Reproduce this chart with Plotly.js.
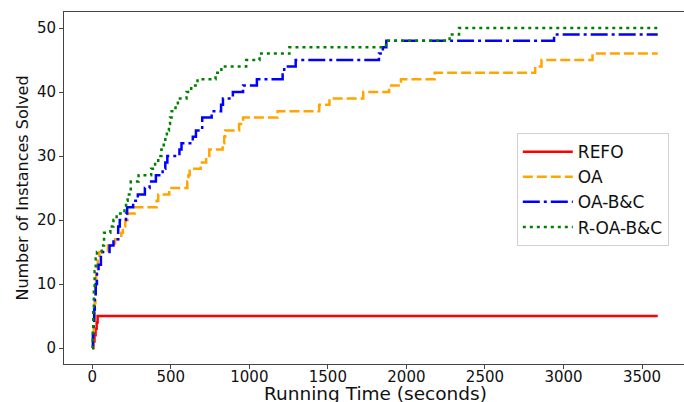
<!DOCTYPE html>
<html>
<head>
<meta charset="utf-8">
<script src="https://cdn.plot.ly/plotly-3.0.1.min.js"></script>
<style>
html,body{margin:0;padding:0;overflow:hidden;background:#fff;}
#chart{width:688px;height:402px;}
</style>
</head>
<body>
<div id="chart"></div>
<script>
// Series names
const seriesNames = ["REFO", "OA", "OA-B&C", "R-OA-B&C"];
const xTitle = "Running Time (seconds)";
const yTitle = "Number of Instances Solved";

// REFO
const refoTimes  = [0, 7, 14, 21, 28, 34, 3600];
const refoCounts = [0, 1, 2, 3, 4, 5, 5];

// OA
const oaTimes  = [0, 5, 10, 15, 20, 25, 35, 45, 100, 145, 185, 195, 210, 225, 270, 410, 420, 490, 605, 612, 620, 690, 725, 745, 830, 840, 846, 935, 960, 1180, 1445, 1510, 1725, 1890, 1965, 2180, 2820, 2860, 3185, 3600];
const oaCounts = [0, 2, 4, 7, 10, 12, 14, 15, 16, 17, 18, 19, 20, 21, 22, 23, 24, 25, 26, 27, 28, 29, 30, 31, 32, 33, 34, 35, 36, 37, 38, 39, 40, 41, 42, 43, 44, 45, 46, 46];

// OA-B&C
const oabcTimes  = [0, 4, 8, 12, 16, 22, 30, 40, 55, 110, 135, 165, 175, 215, 222, 260, 290, 335, 365, 405, 448, 465, 478, 555, 568, 640, 660, 700, 760, 820, 832, 895, 960, 1048, 1212, 1222, 1295, 1825, 1850, 1872, 2940, 3600];
const oabcCounts = [0, 2, 4, 6, 8, 10, 12, 13, 15, 16, 17, 19, 20, 21, 22, 23, 24, 25, 26, 27, 28, 29, 30, 31, 32, 33, 34, 36, 37, 38, 39, 40, 41, 42, 43, 44, 45, 46, 47, 48, 49, 49];

// R-OA-B&C
const roabcTimes  = [0, 3, 6, 10, 15, 22, 30, 60, 75, 115, 135, 155, 205, 215, 225, 245, 295, 375, 400, 420, 440, 455, 465, 475, 488, 495, 505, 530, 545, 600, 630, 670, 785, 822, 980, 1065, 1255, 1870, 2275, 2335, 3600];
const roabcCounts = [0, 3, 6, 9, 12, 14, 15, 16, 18, 19, 20, 21, 22, 23, 24, 26, 27, 28, 29, 30, 31, 32, 33, 34, 35, 36, 37, 38, 39, 40, 41, 42, 43, 44, 45, 46, 47, 48, 49, 50, 50];

// Axis ticks
const xTicks = [0, 500, 1000, 1500, 2000, 2500, 3000, 3500];
const yTicks = [0, 10, 20, 30, 40, 50];

const FONT = "DejaVu Sans, sans-serif";
const AX = "#444";

const traces = [
  {x: refoTimes, y: refoCounts, name: seriesNames[0], mode: "lines",
   line: {color: "#ff0000", width: 2.5, shape: "hv"}},
  {x: oaTimes, y: oaCounts, name: seriesNames[1], mode: "lines",
   line: {color: "#ffa500", width: 2.5, shape: "hv", dash: "10px,4px"}},
  {x: oabcTimes, y: oabcCounts, name: seriesNames[2], mode: "lines",
   line: {color: "#0000ff", width: 2.5, shape: "hv", dash: "17px,4px,3px,4px"}},
  {x: roabcTimes, y: roabcCounts, name: seriesNames[3], mode: "lines",
   line: {color: "#008000", width: 2.5, shape: "hv", dash: "3px,4px"}}
];

const layout = {
  width: 688, height: 402,
  margin: {l: 64, r: 2, t: 12, b: 38},
  paper_bgcolor: "#fff", plot_bgcolor: "#fff",
  font: {family: FONT, color: "#111", size: 15},
  showlegend: true,
  legend: {
    x: 0.728, y: 0.656, xanchor: "left", yanchor: "top",
    bgcolor: "#fff", bordercolor: "#d0d0d0", borderwidth: 1,
    itemwidth: 50,
    font: {family: FONT, size: 17, color: "#111"}
  },
  annotations: [{
    text: xTitle, xref: "paper", yref: "paper", x: 0.5, y: -0.048,
    xanchor: "center", yanchor: "top", showarrow: false,
    font: {family: FONT, size: 18.5, color: "#111"}
  }],
  xaxis: {
    range: [-180, 3780], tickvals: xTicks, ticktext: xTicks.map(String),
    showgrid: false, zeroline: false,
    showline: true, mirror: true, linecolor: AX, linewidth: 1,
    ticks: "outside", ticklen: 4, tickcolor: AX, ticklabelstandoff: -5,
    tickfont: {family: FONT, size: 15, color: "#111"}
  },
  yaxis: {
    range: [-2.5, 52.5], tickvals: yTicks, ticktext: yTicks.map(String),
    showgrid: false, zeroline: false,
    showline: true, mirror: true, linecolor: AX, linewidth: 1,
    ticks: "outside", ticklen: 4, tickcolor: AX,
    tickfont: {family: FONT, size: 15, color: "#111"},
    title: {text: yTitle, font: {family: FONT, size: 16, color: "#111"}, standoff: 4}
  }
};

Plotly.newPlot("chart", traces, layout, {displayModeBar: false, staticPlot: true});
</script>
</body>
</html>
